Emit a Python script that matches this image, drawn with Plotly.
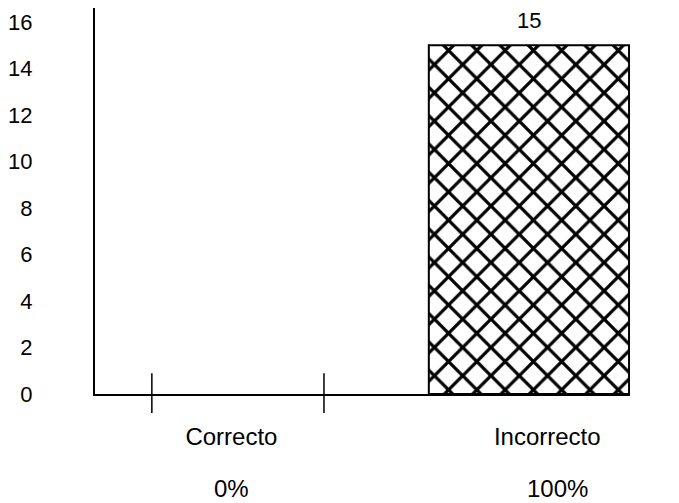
import plotly.graph_objects as go

categories = ["Correcto", "Incorrecto"]
counts = [0, 15]
percent_labels = ["0%", "100%"]
y_ticks = [0, 2, 4, 6, 8, 10, 12, 14, 16]
tick_marks_x = [-0.252, 0.293]

cat_x = list(range(len(categories)))
bar_width = 0.634
bar_offset = -0.375

fig = go.Figure()
fig.add_trace(go.Bar(
    x=cat_x, y=counts, width=bar_width, offset=bar_offset,
    marker=dict(color="white",
                line=dict(color="black", width=[2 if v > 0 else 0 for v in counts]),
                pattern=dict(shape="x", size=20, solidity=0.3, fgcolor="black",
                             bgcolor="white", fgopacity=1)),
    showlegend=False, hoverinfo="skip",
))

font_family = "Liberation Sans, Arial, sans-serif"

# value label above the non-zero bar
for xi, v in zip(cat_x, counts):
    if v > 0:
        fig.add_annotation(x=xi + bar_offset + bar_width / 2, y=v, text=str(v), showarrow=False,
                           yanchor="bottom", yshift=10, font=dict(size=22, color="black", family=font_family))

# percentages under category labels
pct_shift = [0, 10]
for xi, p, s in zip(cat_x, percent_labels, pct_shift):
    fig.add_annotation(x=xi, y=-0.245, xref="x", yref="paper", text=p, showarrow=False,
                       yanchor="middle", xshift=s, font=dict(size=24, color="black", family=font_family))

# small tick marks crossing the x axis
for tx in tick_marks_x:
    fig.add_shape(type="line", xref="x", yref="paper", x0=tx, x1=tx, y0=0.054, y1=-0.049,
                  line=dict(color="black", width=1.5))

fig.update_layout(
    width=679, height=503,
    margin=dict(l=93, r=49, t=8, b=109),
    paper_bgcolor="white", plot_bgcolor="white",
    font=dict(family=font_family, color="black"),
    xaxis=dict(range=[-0.432, 1.262], tickvals=cat_x, ticktext=categories, ticks="",
               showline=True, linecolor="black", linewidth=1.5, showgrid=False, zeroline=False,
               tickfont=dict(size=24), ticklabelstandoff=20),
    yaxis=dict(range=[0, 16.6], tickvals=y_ticks, ticks="", showline=True, linecolor="black",
               linewidth=2, showgrid=False, zeroline=False, tickfont=dict(size=22),
               ticklabelstandoff=56),
)

fig.write_html("out.html", config={"displayModeBar": False},
               post_script="document.body.style.margin='0';")
